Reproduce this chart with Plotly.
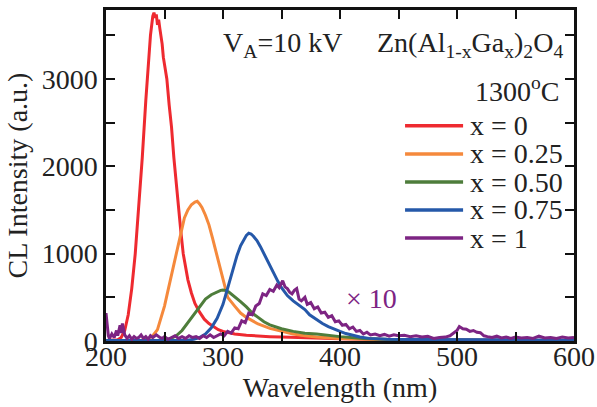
import plotly.graph_objects as go

# ---------------- data ----------------
red_wl = [200, 205, 210, 213, 216, 219, 222, 225, 228, 231, 234, 236, 238, 240, 241, 242, 243, 244, 245, 246,
          247, 248, 249, 250, 252, 254, 256, 258, 260, 262, 264, 266, 268, 270, 273, 276, 280, 284, 288, 292,
          296, 300, 305, 310, 320, 330, 340, 350, 370, 400, 450, 500, 550, 600]
red_cl = [5, 8, 15, 40, 120, 300, 600, 1000, 1500, 2100, 2750, 3150, 3500, 3720, 3760, 3700, 3740, 3620, 3680, 3580,
          3500, 3400, 3250, 3180, 3000, 2700, 2450, 2100, 1800, 1550, 1250, 1000, 850, 700, 550, 430, 330, 250, 200, 160,
          130, 110, 95, 80, 65, 55, 50, 45, 35, 25, 15, 10, 8, 5]

orange_wl = [200, 230, 235, 240, 244, 248, 250, 252, 255, 258, 261, 264, 267, 270, 273, 276, 278, 280, 282, 285,
             288, 291, 294, 297, 300, 304, 310, 315, 320, 325, 330, 340, 350, 360, 370, 380, 400, 420, 450, 500, 600]
orange_cl = [5, 10, 20, 60, 130, 300, 400, 520, 700, 900, 1080, 1260, 1410, 1500, 1560, 1590, 1600, 1570, 1530, 1440,
             1330, 1180, 1030, 880, 720, 500, 400, 320, 270, 230, 195, 145, 110, 80, 60, 45, 30, 20, 12, 8, 5]

green_wl = [200, 250, 255, 260, 265, 270, 275, 280, 285, 290, 295, 298, 300, 302, 305, 310, 315, 320, 325, 330,
            335, 340, 345, 350, 360, 370, 380, 390, 400, 420, 450, 500, 600]
green_cl = [5, 10, 25, 60, 120, 210, 310, 400, 480, 530, 565, 580, 585, 580, 560, 510, 450, 390, 320, 270,
            220, 185, 160, 140, 110, 90, 80, 65, 50, 30, 15, 8, 5]

blue_wl = [200, 270, 275, 280, 285, 290, 295, 300, 303, 306, 309, 312, 315, 318, 320, 322, 324, 326, 329, 332,
           335, 338, 341, 344, 347, 350, 355, 360, 366, 370, 374, 380, 385, 390, 394, 400, 405, 410, 417, 425,
           440, 460, 500, 550, 600]
blue_cl = [5, 10, 20, 40, 80, 150, 260, 420, 560, 700, 850, 980, 1090, 1170, 1210, 1235, 1225, 1200, 1150, 1080,
           1000, 920, 830, 750, 680, 610, 520, 460, 400, 360, 300, 240, 200, 165, 140, 110, 85, 65, 45, 30,
           20, 18, 15, 12, 10]

purple_wl = [200, 201, 202, 203, 205, 207, 209, 210, 212, 213, 214, 216, 218, 220, 222, 224, 226, 228, 230, 232,
             234, 236, 238, 240, 243, 246, 248, 250, 253, 256, 259, 262, 265, 268, 271, 274, 277, 280, 283, 286,
             289, 292, 295, 298, 301, 304, 307, 310, 313, 316, 319, 322, 325, 328, 331, 334, 337, 340, 343, 346,
             348, 351, 353, 355, 357, 359, 361, 363, 365, 367, 370, 372, 375, 378, 381, 384, 387, 390, 393, 396,
             399, 402, 405, 408, 411, 414, 417, 420, 423, 426, 430, 434, 438, 442, 446, 450, 455, 460, 465, 470,
             475, 480, 485, 490, 494, 497, 500, 502, 505, 508, 511, 514, 517, 520, 523, 526, 530, 534, 538, 542,
             546, 550, 555, 560, 565, 570, 575, 580, 585, 590, 595, 600]
purple_cl = [320, 180, 60, 30, 80, 40, 120, 60, 180, 90, 200, 70, 30, 60, 20, 50, 30, 40, 70, 30,
             50, 20, 60, 40, 70, 40, 30, 50, 20, 40, 60, 30, 50, 30, 60, 40, 50, 30, 60, 40,
             70, 40, 60, 80, 60, 110, 90, 150, 140, 230, 210, 320, 300, 400, 430, 540, 520, 590, 570, 640,
             610, 690, 620, 600, 560, 540, 580, 600, 480, 460, 500, 420, 440, 370, 390, 320, 330, 270, 290, 220,
             230, 180, 190, 140, 160, 110, 120, 80, 100, 70, 80, 60, 75, 55, 70, 60, 65, 50, 60, 45,
             55, 30, 40, 45, 60, 90, 120, 165, 140, 135, 110, 120, 100, 95, 60, 50, 40, 55, 35, 45,
             30, 45, 35, 40, 30, 55, 35, 40, 30, 45, 35, 40]

series_names = ["x = 0", "x = 0.25", "x = 0.50", "x = 0.75", "x = 1"]
series_colors = ["#EE2A30", "#F5893C", "#4E7D3B", "#2558A9", "#7D2483"]
series_x = [red_wl, orange_wl, green_wl, blue_wl, purple_wl]
series_y = [red_cl, orange_cl, green_cl, blue_cl, purple_cl]

x_ticks = [200, 300, 400, 500, 600]
y_ticks = [0, 1000, 2000, 3000]

FONT = "Liberation Serif"
TXT = "#222"
FS = 28

fig = go.Figure()
for xs, ys, name, col in zip(series_x, series_y, series_names, series_colors):
    fig.add_trace(go.Scatter(x=xs, y=ys, mode="lines", name=name,
                             line=dict(color=col, width=3), showlegend=False))

# custom legend (line keys + labels)
leg_rows = [0.650, 0.565, 0.480, 0.396, 0.311]
for ypos, name, col in zip(leg_rows, series_names, series_colors):
    fig.add_shape(type="line", xref="paper", yref="paper", x0=0.639, x1=0.763, y0=ypos, y1=ypos,
                  line=dict(color=col, width=3.5))
    fig.add_annotation(xref="paper", yref="paper", x=0.774, y=ypos, text=name, showarrow=False,
                       xanchor="left", yanchor="middle", font=dict(family=FONT, size=FS, color=TXT))

fig.add_annotation(xref="paper", yref="paper", x=0.245, y=0.895, text="V<sub>A</sub>=10 kV", showarrow=False,
                   xanchor="left", yanchor="middle", font=dict(family=FONT, size=FS, color=TXT))
fig.add_annotation(xref="paper", yref="paper", x=0.980, y=0.895,
                   text="Zn(Al<sub>1-x</sub>Ga<sub>x</sub>)<sub>2</sub>O<sub>4</sub>", showarrow=False,
                   xanchor="right", yanchor="middle", font=dict(family=FONT, size=FS, color=TXT))
fig.add_annotation(xref="paper", yref="paper", x=0.972, y=0.760, text="1300<sup>o</sup>C", showarrow=False,
                   xanchor="right", yanchor="middle", font=dict(family=FONT, size=FS, color=TXT))
fig.add_annotation(xref="paper", yref="paper", x=0.568, y=0.128, text="\u00d7 10", showarrow=False,
                   xanchor="center", yanchor="middle", font=dict(family=FONT, size=FS, color="#7D2483"))

axis_common = dict(showline=True, linecolor="#111", linewidth=2.5, mirror="ticks", ticks="inside",
                   ticklen=9, tickwidth=1.5, tickcolor="#111", showgrid=False, zeroline=False,
                   automargin=False, tickfont=dict(family=FONT, size=FS, color=TXT))

fig.update_xaxes(range=[200, 600], tickvals=x_ticks, ticktext=[str(v) for v in x_ticks],
                 ticklabelstandoff=-11,
                 minor=dict(dtick=50, tick0=200, ticks="inside", ticklen=9, tickwidth=1.5, tickcolor="#111"),
                 title=dict(text="Wavelength (nm)", font=dict(family=FONT, size=FS, color=TXT), standoff=0),
                 **axis_common)
fig.update_yaxes(range=[0, 3790], tickvals=y_ticks, ticktext=[str(v) for v in y_ticks],
                 minor=dict(dtick=500, tick0=0, ticks="inside", ticklen=9, tickwidth=1.5, tickcolor="#111"),
                 title=dict(text="CL Intensity (a.u.)", font=dict(family=FONT, size=FS, color=TXT), standoff=6),
                 **axis_common)

fig.update_layout(width=597, height=407, margin=dict(l=106, r=23, t=10, b=66),
                  plot_bgcolor="white", paper_bgcolor="white", showlegend=False)

fig.write_html("out.html")
